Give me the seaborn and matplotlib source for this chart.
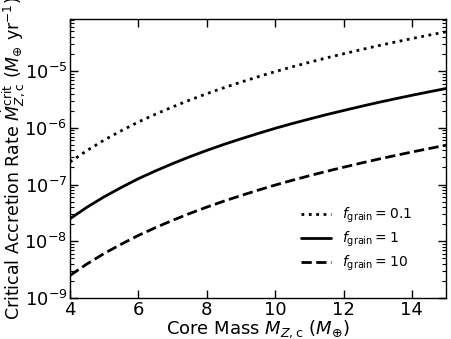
import matplotlib
matplotlib.use("Agg")
import matplotlib.pyplot as plt
from matplotlib.ticker import FixedLocator, NullFormatter
import numpy as np
import pandas as pd
import seaborn as sns

core_mass = [4.0, 4.5, 5.0, 5.5, 6.0, 6.5, 7.0, 7.5, 8.0, 8.5, 9.0, 9.5,
             10.0, 10.5, 11.0, 11.5, 12.0, 12.5, 13.0, 13.5, 14.0, 14.5, 15.0]
rate_f1 = [2.5e-8, 4.0e-8, 6.1e-8, 8.9e-8, 1.27e-7, 1.74e-7, 2.34e-7, 3.09e-7,
           4.0e-7, 5.1e-7, 6.4e-7, 7.95e-7, 9.8e-7, 1.19e-6, 1.43e-6, 1.71e-6,
           2.02e-6, 2.38e-6, 2.79e-6, 3.24e-6, 3.75e-6, 4.31e-6, 4.94e-6]
rate_f01 = [v * 10 for v in rate_f1]
rate_f10 = [v / 10 for v in rate_f1]

labels = [r"$f_{\rm grain}=0.1$", r"$f_{\rm grain}=1$", r"$f_{\rm grain}=10$"]
styles = [":", "-", "--"]

sns.set_style("ticks", {"axes.edgecolor": "black", "text.color": "black",
                        "axes.labelcolor": "black", "xtick.color": "black",
                        "ytick.color": "black"})
plt.rcParams["font.family"] = ["DejaVu Sans"]
plt.rcParams["mathtext.fontset"] = "dejavusans"

fig, ax = plt.subplots(figsize=(4.52, 3.39), dpi=100)
fig.subplots_adjust(left=0.155, right=0.987, bottom=0.121, top=0.944)

for rates, lab, ls in zip([rate_f01, rate_f1, rate_f10], labels, styles):
    df = pd.DataFrame({"mass": core_mass, "rate": rates})
    sns.lineplot(data=df, x="mass", y="rate", ax=ax, color="black",
                 linestyle=ls, linewidth=2, label=lab)

ax.set_yscale("log")
ax.set_xlim(4, 15)
ax.set_ylim(1e-9, 8.3e-5)
ax.set_xticks([4, 6, 8, 10, 12, 14])
ax.set_yticks([1e-9, 1e-8, 1e-7, 1e-6, 1e-5])
minor = [m * 10.0 ** e for e in range(-9, -4) for m in range(2, 10)]
ax.yaxis.set_minor_locator(FixedLocator(minor))
ax.yaxis.set_minor_formatter(NullFormatter())
for s in ax.spines.values():
    s.set_linewidth(1)
ax.tick_params(which="major", direction="in", top=True, right=True,
               labelsize=13, pad=2, color="black", width=1, length=6)
ax.tick_params(axis="y", which="minor", direction="in", left=True, right=True,
               color="black", width=0.8, length=3)
ax.set_xlabel(r"Core Mass $M_{Z,\rm c}$ ($M_{\oplus}$)", fontsize=13, labelpad=0)
ax.set_ylabel(r"Critical Accretion Rate $\dot{M}_{Z,\rm c}^{\rm crit}$ ($M_{\oplus}$ yr$^{-1}$)",
              fontsize=12.5, labelpad=-2)
ax.legend(loc="lower right", frameon=False, fontsize=10, labelspacing=0.35,
          handlelength=2.2, bbox_to_anchor=(0.925, 0.068), borderaxespad=0)

fig.savefig("out.png", dpi=100)
